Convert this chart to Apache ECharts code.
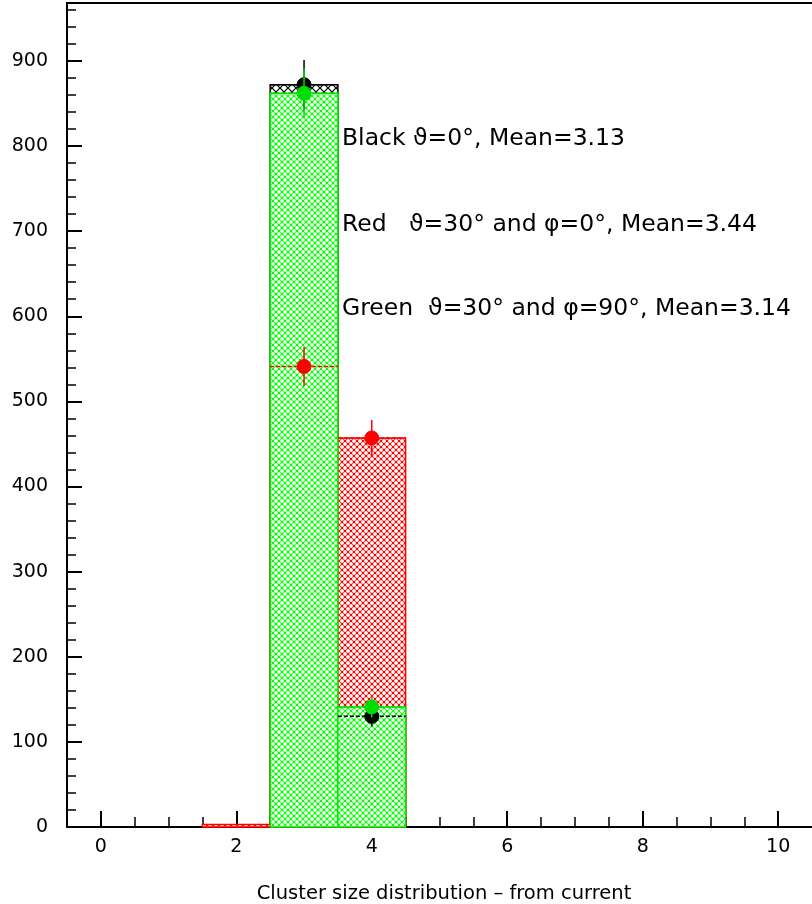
<!DOCTYPE html>
<html><head><meta charset="utf-8">
<script src="https://cdn.jsdelivr.net/npm/echarts@6/dist/echarts.min.js"></script>
<style>html,body{margin:0;padding:0;background:#fff}#c{width:812px;height:904px}</style>
</head><body><div id="c"></div>
<script>
// ---- data ----
const binCenters = [2, 3, 4];
const blackCounts = [0, 872, 130];
const redCounts = [3, 541, 457];
const greenCounts = [0, 862, 141];
const blackErrors = [null, 29, 12];
const redErrors = [null, 23, 21];
const greenErrors = [null, 29, 12];
const xMajorTicks = [0, 2, 4, 6, 8, 10];
const xMinorTicks = [0.5, 1, 1.5, 2.5, 3, 3.5, 4.5, 5, 5.5, 6.5, 7, 7.5, 8.5, 9, 9.5];
const yMajorTicks = [0, 100, 200, 300, 400, 500, 600, 700, 800, 900];
const yMinorTicks = [20, 40, 60, 80, 120, 140, 160, 180, 220, 240, 260, 280, 320, 340, 360, 380,
  420, 440, 460, 480, 520, 540, 560, 580, 620, 640, 660, 680, 720, 740, 760, 780,
  820, 840, 860, 880, 920, 940, 960];
const xTitle = 'Cluster size distribution \u2013 from current';
const annotations = [
  'Black \u03d1=0\u00b0, Mean=3.13',
  'Red   \u03d1=30\u00b0 and \u03c6=0\u00b0, Mean=3.44',
  'Green  \u03d1=30\u00b0 and \u03c6=90\u00b0, Mean=3.14'
];
const annotationCenters = [138.5, 224.5, 308.5];

const FONT = 'DejaVu Sans';

function lattice(dot, line, size) {
  const c = document.createElement('canvas');
  c.width = size; c.height = size;
  const ctx = c.getContext('2d');
  ctx.fillStyle = '#fff';
  ctx.fillRect(0, 0, size, size);
  ctx.strokeStyle = line;
  ctx.lineWidth = 1.2;
  ctx.beginPath();
  ctx.moveTo(-1, -1); ctx.lineTo(size + 1, size + 1);
  ctx.moveTo(size + 1, -1); ctx.lineTo(-1, size + 1);
  ctx.stroke();
  ctx.fillStyle = dot;
  const h = size / 2;
  ctx.fillRect(-1, -1, 2, 2); ctx.fillRect(size - 1, -1, 2, 2);
  ctx.fillRect(-1, size - 1, 2, 2); ctx.fillRect(size - 1, size - 1, 2, 2);
  ctx.fillRect(h - 1, h - 1, 2, 2);
  return c;
}
function hatch(color, size, lw) {
  const c = document.createElement('canvas');
  c.width = size; c.height = size;
  const ctx = c.getContext('2d');
  ctx.fillStyle = '#fff';
  ctx.fillRect(0, 0, size, size);
  ctx.strokeStyle = color;
  ctx.lineWidth = lw;
  ctx.beginPath();
  ctx.moveTo(-1, -1); ctx.lineTo(size + 1, size + 1);
  ctx.moveTo(size + 1, -1); ctx.lineTo(-1, size + 1);
  ctx.stroke();
  return c;
}
const greenPat = lattice('#00ff00', '#33ff33', 6);
const redPat = lattice('#ff0000', '#ff4d4d', 6);
const blackPat = hatch('#000000', 8, 1.2);

function histSeries(name, counts, color, pat, z) {
  return {
    type: 'custom', name: name, z: z,
    xAxisIndex: 0, yAxisIndex: 0,
    data: binCenters.map((c, i) => [c, counts[i]]),
    renderItem: function (params, api) {
      const x = api.value(0), v = api.value(1);
      if (!(v > 0)) return null;
      const p0 = api.coord([x - 0.5, v]);
      const p1 = api.coord([x + 0.5, 0]);
      return {
        type: 'rect',
        shape: { x: p0[0], y: p0[1], width: p1[0] - p0[0], height: p1[1] - p0[1] },
        style: { fill: { image: pat, repeat: 'repeat' }, stroke: color, lineWidth: 1.5 }
      };
    }
  };
}

function markerSeries(name, counts, errors, color, z) {
  return {
    type: 'custom', name: name, z: z,
    xAxisIndex: 0, yAxisIndex: 0,
    data: binCenters.map((c, i) => [c, counts[i], errors[i]]),
    renderItem: function (params, api) {
      const x = api.value(0), v = api.value(1), e = api.value(2);
      if (e == null || isNaN(e)) return null;
      const pc = api.coord([x, v]);
      const pl = api.coord([x - 0.5, v]);
      const pr = api.coord([x + 0.5, v]);
      const pt = api.coord([x, v + e]);
      const pb = api.coord([x, v - e]);
      return {
        type: 'group',
        children: [
          { type: 'line', shape: { x1: pl[0], y1: pl[1], x2: pr[0], y2: pr[1] },
            style: { stroke: color, lineWidth: 1.5, lineDash: [4, 2] } },
          { type: 'line', shape: { x1: pt[0], y1: pt[1], x2: pb[0], y2: pb[1] },
            style: { stroke: color, lineWidth: 1.5 } },
          { type: 'circle', shape: { cx: pc[0], cy: pc[1], r: 7 },
            style: { fill: color, stroke: color } }
        ]
      };
    }
  };
}

const axisLineStyle = { color: '#000', width: 2 };
const labelStyle = { fontFamily: FONT, fontSize: 19, color: '#000' };

const chart = echarts.init(document.getElementById('c'), null, { renderer: 'canvas' });
chart.setOption({
  animation: false,
  backgroundColor: '#fff',
  grid: { left: 67, right: -6, top: 3, bottom: 77 },
  xAxis: [
    { type: 'value', min: -0.5, max: 10.5, position: 'bottom',
      axisLine: { show: true, onZero: false, lineStyle: axisLineStyle },
      axisTick: { show: true, inside: true, length: 16, customValues: xMajorTicks, lineStyle: { color: '#000', width: 2 } },
      axisLabel: Object.assign({ customValues: xMajorTicks, margin: 11 }, labelStyle),
      splitLine: { show: false } },
    { type: 'value', min: -0.5, max: 10.5, position: 'bottom',
      axisLine: { show: false, onZero: false },
      axisTick: { show: true, inside: true, length: 10, customValues: xMinorTicks, lineStyle: { color: '#000', width: 1.5 } },
      axisLabel: { show: false }, splitLine: { show: false } },
    { type: 'value', min: -0.5, max: 10.5, position: 'top',
      axisLine: { show: true, onZero: false, lineStyle: axisLineStyle },
      axisTick: { show: false }, axisLabel: { show: false }, splitLine: { show: false } }
  ],
  yAxis: [
    { type: 'value', min: 0, max: 968, position: 'left',
      axisLine: { show: true, onZero: false, lineStyle: axisLineStyle },
      axisTick: { show: true, inside: true, length: 15, customValues: yMajorTicks, lineStyle: { color: '#000', width: 2 } },
      axisLabel: Object.assign({ customValues: yMajorTicks, margin: 19 }, labelStyle),
      splitLine: { show: false } },
    { type: 'value', min: 0, max: 968, position: 'left',
      axisLine: { show: false, onZero: false },
      axisTick: { show: true, inside: true, length: 9, customValues: yMinorTicks, lineStyle: { color: '#000', width: 1.5 } },
      axisLabel: { show: false }, splitLine: { show: false } }
  ],
  graphic: annotations.map((t, i) => ({
    type: 'text', x: 342, y: annotationCenters[i], z: 100,
    style: { text: t, fontFamily: FONT, fontSize: 23.5, fill: '#000', textAlign: 'left', textVerticalAlign: 'middle' }
  })).concat([{
    type: 'text', x: 444, y: 894, z: 100,
    style: { text: xTitle, fontFamily: FONT, fontSize: 19.5, fill: '#000', textAlign: 'center', textVerticalAlign: 'middle' }
  }]),
  series: [
    histSeries('black', blackCounts, '#000', blackPat, 2),
    histSeries('red', redCounts, '#ff0000', redPat, 3),
    histSeries('green', greenCounts, '#00ee00', greenPat, 4),
    markerSeries('blackM', blackCounts, blackErrors, '#000', 5),
    markerSeries('redM', redCounts, redErrors, '#ff0000', 6),
    markerSeries('greenM', greenCounts, greenErrors, '#00dd00', 7)
  ]
});
</script></body></html>
